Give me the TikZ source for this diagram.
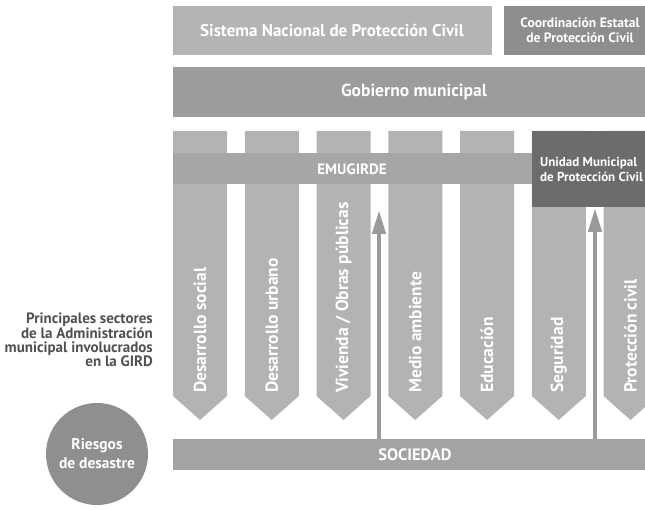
\documentclass[tikz,border=0pt]{standalone}
\usepackage{fontspec}
\setmainfont{PT Sans}
\usetikzlibrary{arrows.meta}
\definecolor{cSis}{HTML}{B4B4B4}
\definecolor{cCoord}{HTML}{8E8E8E}
\definecolor{cGob}{HTML}{9C9C9C}
\definecolor{cCol}{HTML}{B3B3B3}
\definecolor{cBand}{HTML}{A6A6A6}
\definecolor{cUni}{HTML}{6C6C6C}
\definecolor{cSoc}{HTML}{A3A3A3}
\definecolor{cCirc}{HTML}{8F8F8F}
\definecolor{cArr}{HTML}{9A9A9A}
\definecolor{cLbl}{HTML}{505050}
\tikzset{
  wtxt/.style={text=white,font=\bfseries\fontsize{17}{19}\selectfont,inner sep=0pt},
  stxt/.style={text=white,font=\bfseries\fontsize{13.6}{14.5}\selectfont,inner sep=0pt,align=center},
  coltxt/.style={text=white,font=\bfseries\fontsize{17.5}{19}\selectfont,inner sep=0pt,rotate=90,anchor=west},
  uparrow/.style={draw=cArr,line width=4.5pt,-{Triangle[width=13pt,length=24pt]}},
}
\begin{document}
\begin{tikzpicture}[x=1pt,y=-1pt]
\useasboundingbox (0,0) rectangle (645,510);
\clip (0,0) rectangle (645,510);
% top boxes
\fill[cSis] (173,6) rectangle (492,55);
\node[wtxt] (sis) at (332,31) {Sistema Nacional de Protección Civil};
\fill[cCoord] (504,6) rectangle (660,55);
\node[stxt] (coord) at (580,30) {Coordinación Estatal\\de Protección Civil};
\fill[cGob] (173,67) rectangle (660,117);
\node[wtxt,font=\bfseries\fontsize{17.5}{19}\selectfont] (gob) at (414,92) {Gobierno municipal};
% columns
\foreach \i in {0,...,6}{
  \pgfmathsetmacro{\xl}{173+71.75*\i}
  \pgfmathsetmacro{\xr}{\xl+54}
  \pgfmathsetmacro{\xc}{\xl+27}
  \fill[cCol] (\xl,131) -- (\xr,131) -- (\xr,396) -- (\xc,420) -- (\xl,396) -- cycle;
}
% EMUGIRDE band
\fill[cBand] (173,153) rectangle (532,184);
\node[wtxt,font=\bfseries\fontsize{15}{17}\selectfont] (emu) at (352,169) {EMUGIRDE};
% Unidad municipal
\fill[cUni] (532,131) rectangle (660,207);
\node[stxt,align=left,anchor=west,font=\bfseries\fontsize{13}{15}\selectfont] (uni) at (540,169) {Unidad Municipal\\de Protección Civil};
% column labels
\node[coltxt] (c1) at (200,393) {Desarrollo social};
\node[coltxt] (c2) at (271.75,393) {Desarrollo urbano};
\node[coltxt] (c3) at (343.5,393) {Vivienda / Obras públicas};
\node[coltxt] (c4) at (415.25,393) {Medio ambiente};
\node[coltxt] (c5) at (487,393) {Educación};
\node[coltxt] (c6) at (558.75,393) {Seguridad};
\node[coltxt] (c7) at (630.5,393) {Protección civil};
% sociedad
\fill[cSoc] (173,439) rectangle (660,470);
\node[wtxt,font=\bfseries\fontsize{16.5}{18}\selectfont] (soc) at (415,455) {SOCIEDAD};
\coordinate (socl) at (173,439);
\coordinate (a1) at (379,210);
\coordinate (a2) at (595,208);
\draw[uparrow] (socl -| a1) -- (a1);
\draw[uparrow] (socl -| a2) -- (a2);
% circle
\node[circle,fill=cCirc,minimum size=102pt,inner sep=0pt,text=white,font=\bfseries\fontsize{15.5}{19}\selectfont,align=center] (ries) at (97,454) {Riesgos\\de desastre};
% side label
\node[anchor=east,align=right,text=cLbl,font=\bfseries\fontsize{15}{14.4}\selectfont,inner sep=0pt] (lbl) at (153,340) {Principales sectores\\de la Administración\\municipal involucrados\\en la GIRD};
\end{tikzpicture}
\end{document}
